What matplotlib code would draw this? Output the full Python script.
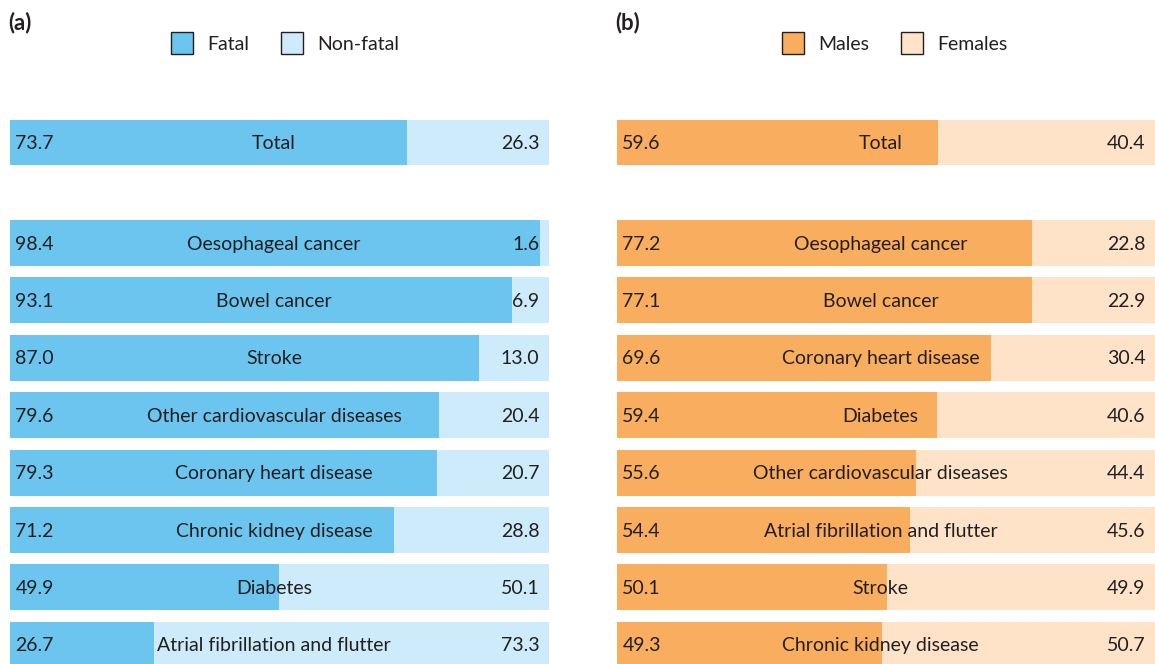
import matplotlib.pyplot as plt
import numpy as np

plt.rcParams['font.family'] = ['Lato', 'DejaVu Sans']

# panel (a): fatal vs non-fatal share (%)
causes_a = ["Total", "Oesophageal cancer", "Bowel cancer", "Stroke",
            "Other cardiovascular diseases", "Coronary heart disease",
            "Chronic kidney disease", "Diabetes", "Atrial fibrillation and flutter"]
fatal = [73.7, 98.4, 93.1, 87.0, 79.6, 79.3, 71.2, 49.9, 26.7]
nonfatal = [26.3, 1.6, 6.9, 13.0, 20.4, 20.7, 28.8, 50.1, 73.3]

# panel (b): males vs females share (%)
causes_b = ["Total", "Oesophageal cancer", "Bowel cancer", "Coronary heart disease",
            "Diabetes", "Other cardiovascular diseases", "Atrial fibrillation and flutter",
            "Stroke", "Chronic kidney disease"]
males = [59.6, 77.2, 77.1, 69.6, 59.4, 55.6, 54.4, 50.1, 49.3]
females = [40.4, 22.8, 22.9, 30.4, 40.6, 44.4, 45.6, 49.9, 50.7]

W, H = 1155, 664
fig = plt.figure(figsize=(W / 100, H / 100), dpi=100)

# row positions: Total, then a gap, then the rest
ypos = np.array([0] + [1.75 + i for i in range(8)])
pitch = 57.4
y0 = 142.5
ylim = ((H - y0) / pitch, -y0 / pitch)
TXT = '#231f20'


def panel(left_px, width_px, cats, v1, v2, c1, c2, tag, names, leg_x, leg_gap):
    ax = fig.add_axes([left_px / W, 0, width_px / W, 1])
    ax.barh(ypos, v1, height=0.8, color=c1)
    ax.barh(ypos, v2, left=v1, height=0.8, color=c2)
    for y, cat, a, b in zip(ypos, cats, v1, v2):
        ax.text(1, y + 0.02, f"{a:.1f}", va='center', ha='left', fontsize=14, color=TXT)
        ax.text(98.2, y + 0.02, f"{b:.1f}", va='center', ha='right', fontsize=14, color=TXT)
        ax.text(49, y + 0.02, cat, va='center', ha='center', fontsize=14, color=TXT)
    ax.set_xlim(0, 100)
    ax.set_ylim(*ylim)
    ax.axis('off')
    # panel tag and legend
    fig.text((left_px - 2) / W, 1 - 23 / H, tag, fontsize=16, fontweight='bold',
             va='center', ha='left', color=TXT)
    x = leg_x
    for c, n in zip([c1, c2], names):
        fig.patches.append(plt.Rectangle((x / W, 1 - 54 / H), 22 / W, 22 / H,
                                         transform=fig.transFigure, facecolor=c,
                                         edgecolor=TXT, linewidth=1))
        fig.text((x + 36) / W, 1 - 44 / H, n, fontsize=14, va='center', ha='left',
                 color=TXT)
        x += leg_gap


panel(10, 539, causes_a, fatal, nonfatal, '#6bc5ef', '#cdebfb', '(a)',
      ['Fatal', 'Non-fatal'], 171, 110)
panel(617, 538, causes_b, males, females, '#f9ad5f', '#fee3c9', '(b)',
      ['Males', 'Females'], 782, 119)
fig.savefig('out.png', dpi=100)
